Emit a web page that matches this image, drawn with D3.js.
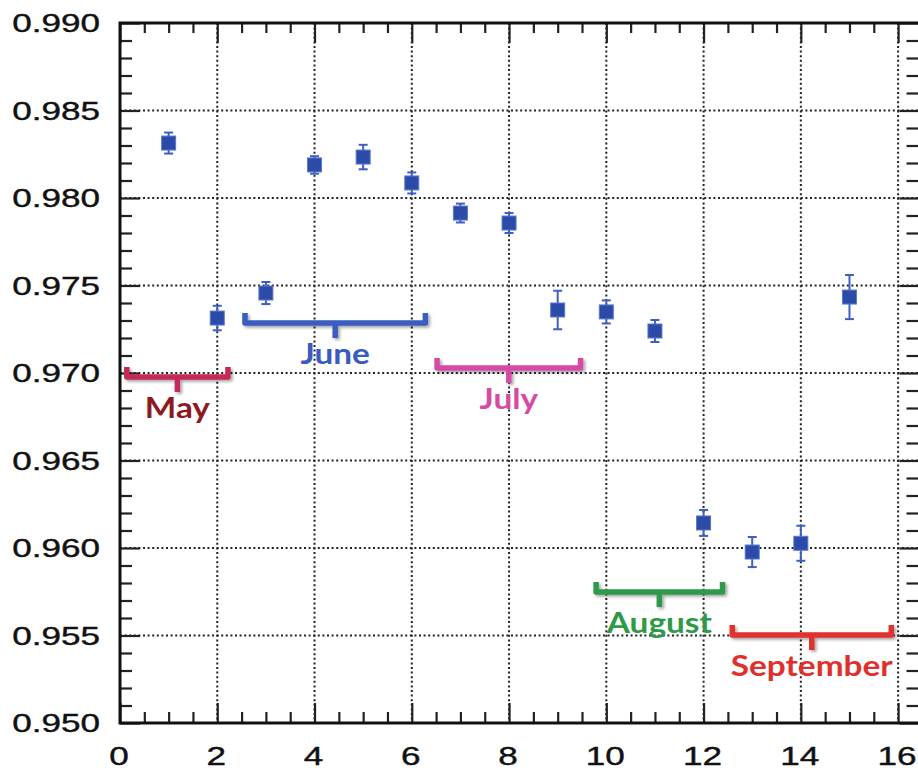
<!DOCTYPE html>
<html>
<head>
<meta charset="utf-8">
<script src="https://cdn.jsdelivr.net/npm/d3@7"></script>
<style>
  body { margin: 0; background: #fff; }
  svg { display: block; }
</style>
</head>
<body>
<div id="chart"></div>
<script>
// measurement index (x) and value with uncertainty
const runs = [1, 2, 3, 4, 5, 6, 7, 8, 9, 10, 11, 12, 13, 14, 15];
const values = [0.98314, 0.97314, 0.97457, 0.98189, 0.98234, 0.98086, 0.97914, 0.97857,
  0.97360, 0.97349, 0.97240, 0.96143, 0.95977, 0.96027, 0.97434];
const errors = [0.0006, 0.0007, 0.00063, 0.0005, 0.0007, 0.0006, 0.00054, 0.00057,
  0.0011, 0.00066, 0.00063, 0.00074, 0.00086, 0.001, 0.00126];

// month brackets: name, from, to (x units), level (y units)
const months = ['May', 'June', 'July', 'August', 'September'];
const monthFrom = [0.14, 2.57, 6.52, 9.79, 12.59];
const monthTo = [2.22, 6.28, 9.47, 12.39, 15.86];
const monthLevel = [0.96977, 0.97286, 0.97029, 0.95749, 0.95503];
const monthColor = ['#c42a55', '#3a5bc0', '#d64aa6', '#2e9a48', '#e0302e'];
const monthTextColor = ['#8e1a1f', '#3a5bc0', '#d64aa6', '#2e9a48', '#e0302e'];

const yTickLabels = ['0.950', '0.955', '0.960', '0.965', '0.970', '0.975', '0.980', '0.985', '0.990'];

const width = 918, height = 772;
const pLeft = 120, pRight = 919.5, pTop = 23, pBottom = 723;
const stretch = 1.35;

const svg = d3.select('#chart').append('svg').attr('width', width).attr('height', height);

const defs = svg.append('defs');
const f = defs.append('filter').attr('id', 'shadow').attr('x', '-10%').attr('y', '-50%').attr('width', '130%').attr('height', '200%');
f.append('feDropShadow').attr('dx', 2).attr('dy', 2).attr('stdDeviation', 1.5).attr('flood-color', '#000').attr('flood-opacity', 0.35);

const x = d3.scaleLinear().domain([0, 16.44]).range([pLeft, pRight]);
const y = d3.scaleLinear().domain([0.950, 0.990]).range([pBottom, pTop]);

const xMajor = d3.range(0, 17, 2);
const xMinor = d3.range(0, 33).map(i => i * 0.5).filter(d => d % 2 !== 0);
const yMajor = yTickLabels.map(Number);
const yMinor = d3.range(0, 41).map(i => 0.950 + i * 0.001).filter((d, i) => i % 5 !== 0);

// grid
const grid = svg.append('g').attr('stroke', '#222').attr('stroke-width', 2).attr('stroke-dasharray', '2,2.6');
grid.selectAll('.gx').data(xMajor.filter(d => d > 0)).join('line')
  .attr('x1', d => x(d)).attr('x2', d => x(d)).attr('y1', pTop).attr('y2', pBottom);
grid.selectAll('.gy').data(yMajor.slice(1, -1)).join('line')
  .attr('x1', pLeft).attr('x2', pRight).attr('y1', d => y(d)).attr('y2', d => y(d));

// axes (ticks inward on all four sides)
function ax(axis, vals, size, tr) {
  const g = svg.append('g').attr('transform', tr)
    .call(axis.tickValues(vals).tickSize(size).tickFormat(''));
  g.select('.domain').remove();
  g.selectAll('line').attr('stroke', '#222').attr('stroke-width', 2.2);
}
ax(d3.axisBottom(x), xMajor, -20, `translate(0,${pBottom})`);
ax(d3.axisBottom(x), xMinor, -11, `translate(0,${pBottom})`);
ax(d3.axisTop(x), xMajor, -20, `translate(0,${pTop})`);
ax(d3.axisTop(x), xMinor, -10, `translate(0,${pTop})`);
ax(d3.axisLeft(y), yMajor, -20, `translate(${pLeft},0)`);
ax(d3.axisLeft(y), yMinor, -12, `translate(${pLeft},0)`);
ax(d3.axisRight(y), yMajor, -20, `translate(${pRight},0)`);
ax(d3.axisRight(y), yMinor, -13, `translate(${pRight},0)`);

svg.append('rect').attr('x', pLeft).attr('y', pTop).attr('width', pRight - pLeft).attr('height', pBottom - pTop)
  .attr('fill', 'none').attr('stroke', '#111').attr('stroke-width', 3);

// tick labels (stretched like the original)
const lab = svg.append('g').attr('font-family', '"Liberation Sans", Arial, sans-serif')
  .attr('font-size', 26).attr('fill', '#111').attr('stroke', '#111').attr('stroke-width', 0.4);
lab.selectAll('.xl').data(xMajor).join('text')
  .attr('transform', d => `translate(${x(d) - 1},765) scale(${stretch},1)`)
  .attr('text-anchor', 'middle').text(d => d);
lab.selectAll('.yl').data(yMajor).join('text')
  .attr('transform', d => `translate(100,${y(d) + 9}) scale(${stretch},1)`)
  .attr('text-anchor', 'end').text((d, i) => yTickLabels[i]);

// month brackets
const br = svg.append('g');
months.forEach((m, i) => {
  const x0 = x(monthFrom[i]), x1 = x(monthTo[i]), yy = y(monthLevel[i]);
  const xc = (x0 + x1) / 2;
  br.append('path')
    .attr('d', `M${x0},${yy - 10} L${x0},${yy} L${x1},${yy} L${x1},${yy - 10} M${xc},${yy} L${xc},${yy + 15}`)
    .attr('fill', 'none').attr('stroke', monthColor[i]).attr('stroke-width', 5.5)
    .attr('stroke-linejoin', 'round').attr('filter', 'url(#shadow)');
  br.append('text')
    .attr('transform', `translate(${xc},${yy + 41}) scale(1.15,1)`)
    .attr('text-anchor', 'middle')
    .attr('font-family', 'Lato, "Open Sans", sans-serif').attr('font-weight', 'bold')
    .attr('font-size', 29).attr('fill', monthTextColor[i]).text(m);
});

// data points with error bars
const pts = svg.append('g');
runs.forEach((r, i) => {
  const cx = x(r), cy = y(values[i]);
  const lo = y(values[i] - errors[i]), hi = y(values[i] + errors[i]);
  const g = pts.append('g').attr('stroke', '#3d5ec4').attr('stroke-width', 2);
  g.append('line').attr('x1', cx).attr('x2', cx).attr('y1', hi).attr('y2', lo);
  g.append('line').attr('x1', cx - 4.5).attr('x2', cx + 4.5).attr('y1', hi).attr('y2', hi);
  g.append('line').attr('x1', cx - 4.5).attr('x2', cx + 4.5).attr('y1', lo).attr('y2', lo);
  pts.append('rect').attr('x', cx - 7).attr('y', cy - 7).attr('width', 14).attr('height', 14)
    .attr('fill', '#2c4ba8').attr('stroke', '#5a78d0').attr('stroke-width', 1);
});
</script>
</body>
</html>
